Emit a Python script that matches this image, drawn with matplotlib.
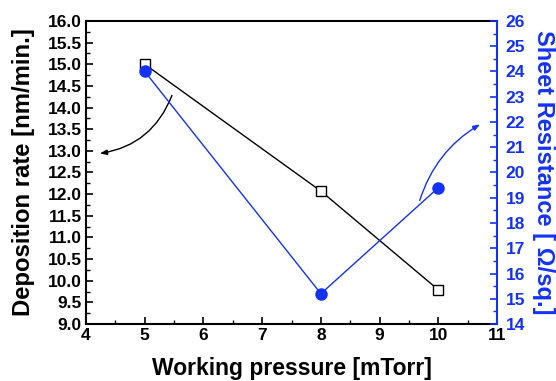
import matplotlib
matplotlib.use("Agg")
import matplotlib.pyplot as plt
from matplotlib.ticker import MultipleLocator

plt.rcParams['font.family'] = ['Liberation Sans', 'DejaVu Sans']
plt.rcParams['font.weight'] = 'bold'

pressure = [5, 8, 10]
dep_rate = [15.0, 12.07, 9.79]
sheet_res = [24.0, 15.2, 19.4]

BLUE = '#1432f5'

fig = plt.figure(figsize=(5.56, 3.81), dpi=100)
ax = fig.add_axes([0.1547, 0.1496, 0.894 - 0.1547, 0.9449 - 0.1496])
ax2 = ax.twinx()

ax.plot(pressure, dep_rate, color='black', lw=1.0, marker='s', ms=7,
        mfc='white', mec='black', mew=1.0, zorder=3)
ax2.plot(pressure, sheet_res, color=BLUE, lw=1.0, marker='o', ms=8,
         mfc=BLUE, mec=BLUE, zorder=3)

ax.set_xlim(4, 11)
ax.set_ylim(9.0, 16.0)
ax2.set_ylim(14, 26)

ax.xaxis.set_major_locator(MultipleLocator(1))
ax.xaxis.set_minor_locator(MultipleLocator(0.5))
ax.yaxis.set_major_locator(MultipleLocator(0.5))
ax.yaxis.set_minor_locator(MultipleLocator(0.25))
ax2.yaxis.set_major_locator(MultipleLocator(1))
ax2.yaxis.set_minor_locator(MultipleLocator(0.5))
ax.yaxis.set_major_formatter(matplotlib.ticker.FormatStrFormatter('%.1f'))

ax.tick_params(axis='both', which='major', direction='in', length=5, width=1.2,
               labelsize=12.5, pad=3)
ax.tick_params(axis='both', which='minor', direction='in', length=3, width=1.0)
ax.tick_params(axis='x', which='both', top=False)
ax2.tick_params(axis='y', which='major', direction='in', length=5, width=1.2,
                labelsize=12.5, colors=BLUE, pad=6)
ax2.tick_params(axis='y', which='minor', direction='in', length=3, width=1.0,
                colors=BLUE)

for sp in ['left', 'bottom', 'top']:
    ax.spines[sp].set_linewidth(1.5)
ax.spines['right'].set_visible(False)
for sp in ['left', 'bottom', 'top']:
    ax2.spines[sp].set_visible(False)
ax2.spines['right'].set_color(BLUE)
ax2.spines['right'].set_linewidth(1.5)

for lab in ax.get_xticklabels() + ax.get_yticklabels() + ax2.get_yticklabels():
    lab.set_fontweight('bold')

ax.set_xlabel('Working pressure [mTorr]', fontsize=16.5, fontweight='bold', labelpad=10)
ax.set_ylabel('Deposition rate [nm/min.]', fontsize=17.2, fontweight='bold', labelpad=9)
ax2.set_ylabel('Sheet Resistance [ Ω/sq.]', fontsize=17, fontweight='bold',
               color=BLUE, rotation=270, labelpad=22)

ax.annotate('', xy=(4.19, 12.93), xytext=(5.48, 14.34),
            arrowprops=dict(arrowstyle='-|>,head_length=0.4,head_width=0.15',
                            color='black', lw=1.0,
                            connectionstyle='arc3,rad=-0.3'), zorder=4)
ax2.annotate('', xy=(10.75, 21.96), xytext=(9.67, 18.79),
             arrowprops=dict(arrowstyle='-|>,head_length=0.4,head_width=0.15',
                             color=BLUE, lw=1.0,
                             connectionstyle='arc3,rad=-0.2'), zorder=4)

fig.savefig('out.png', dpi=100)
